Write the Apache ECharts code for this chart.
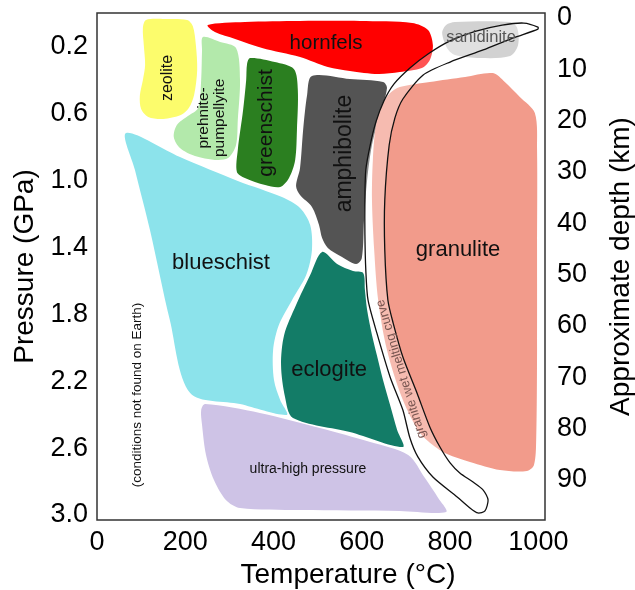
<!DOCTYPE html>
<html>
<head>
<meta charset="utf-8">
<script src="https://cdn.jsdelivr.net/npm/echarts@6.0.0/dist/echarts.min.js"></script>
<style>
  html, body { margin: 0; padding: 0; background: #fff; }
  #chart { width: 635px; height: 590px; }
</style>
</head>
<body>
<div id="chart"></div>
<script>
// Metamorphic facies fields as [temperature (°C), pressure (GPa)] outline vertices
const zeolite = [[111,0.042],[154,0.036],[204,0.042],[217,0.078],[224,0.191],[227,0.341],[220,0.490],[208,0.568],[190,0.610],[150,0.633],[116,0.621],[100,0.574],[97,0.496],[104,0.400],[109,0.311],[106,0.191],[104,0.090]];
const prehnitePumpellyite = [[240,0.143],[279,0.173],[315,0.209],[324,0.400],[319,0.639],[315,0.789],[297,0.867],[267,0.878],[222,0.855],[188,0.807],[174,0.741],[181,0.669],[206,0.616],[229,0.568],[236,0.400],[238,0.221]];
const greenschist = [[347,0.269],[403,0.293],[446,0.335],[455,0.460],[453,0.699],[449,0.878],[435,0.986],[415,1.040],[381,1.028],[335,0.986],[317,0.950],[319,0.819],[331,0.580],[338,0.400],[340,0.305]];
const amphibolite = [[487,0.376],[573,0.394],[648,0.412],[657,0.448],[641,0.610],[623,0.789],[612,0.998],[605,1.237],[600,1.464],[587,1.500],[551,1.452],[523,1.404],[510,1.345],[503,1.267],[487,1.159],[460,1.088],[451,1.034],[460,0.926],[467,0.699],[476,0.490]];
const hornfels = [[251,0.072],[335,0.054],[460,0.048],[596,0.048],[714,0.060],[750,0.102],[761,0.191],[754,0.281],[736,0.329],[686,0.353],[637,0.365],[573,0.347],[523,0.323],[460,0.263],[374,0.209],[313,0.155],[267,0.114]];
const sanidinite = [[782,0.120],[791,0.072],[811,0.054],[936,0.054],[952,0.090],[954,0.191],[936,0.257],[868,0.269],[811,0.251],[793,0.209]];
const blueschist = [[66,0.717],[188,0.861],[319,1.004],[419,1.100],[460,1.165],[483,1.267],[487,1.416],[474,1.566],[442,1.715],[412,1.865],[399,2.014],[401,2.193],[415,2.313],[430,2.402],[324,2.337],[211,2.271],[165,1.835],[120,1.297],[86,0.938]];
const eclogite = [[510,1.428],[544,1.500],[580,1.542],[603,1.554],[607,1.655],[612,1.775],[623,1.924],[634,2.044],[648,2.193],[664,2.343],[680,2.492],[693,2.594],[573,2.504],[444,2.420],[426,2.295],[417,2.104],[424,1.924],[451,1.745],[483,1.566]];
const ultraHighPressure = [[245,2.337],[369,2.390],[505,2.480],[619,2.564],[705,2.641],[743,2.779],[773,2.898],[791,2.982],[686,2.976],[460,2.970],[324,2.958],[292,2.910],[265,2.791],[247,2.641],[238,2.462],[236,2.373]];
const granulite = [[686,0.442],[754,0.412],[834,0.382],[897,0.359],[924,0.412],[958,0.502],[992,0.598],[997,0.819],[997,1.416],[997,2.014],[995,2.552],[990,2.701],[974,2.737],[913,2.731],[845,2.683],[793,2.635],[770,2.600],[732,2.510],[693,2.313],[657,2.014],[637,1.715],[628,1.416],[623,1.118],[625,0.878],[632,0.669],[646,0.550],[664,0.478]];

// Closed outline of the granite wet-melting band
const meltingCurve = [[999,0.084],[967,0.060],[918,0.072],[859,0.108],[800,0.167],[750,0.245],[709,0.329],[673,0.424],[650,0.526],[632,0.651],[619,0.789],[609,0.938],[607,1.118],[607,1.327],[609,1.536],[614,1.715],[634,1.912],[664,2.175],[693,2.373],[709,2.540],[727,2.653],[761,2.773],[816,2.892],[845,2.958],[863,2.988],[879,2.976],[886,2.910],[875,2.851],[852,2.803],[822,2.749],[800,2.689],[777,2.594],[754,2.474],[725,2.271],[693,2.056],[671,1.853],[659,1.715],[652,1.416],[652,1.118],[662,0.789],[675,0.627],[693,0.514],[739,0.370],[800,0.293],[875,0.221],[943,0.149],[999,0.096]];

// Tick labels
const temperatureTicks = [0, 200, 400, 600, 800, 1000];
const pressureTicks = ['0.2', '0.6', '1.0', '1.4', '1.8', '2.2', '2.6', '3.0'];
const depthTicks = [0, 10, 20, 30, 40, 50, 60, 70, 80, 90];

const FONT = '"Liberation Sans", Arial, sans-serif';

const faciesFields = [
  { name: 'zeolite', pts: zeolite },
  { name: 'prehnite-pumpellyite', pts: prehnitePumpellyite },
  { name: 'greenschist', pts: greenschist },
  { name: 'amphibolite', pts: amphibolite },
  { name: 'hornfels', pts: hornfels },
  { name: 'sanidinite', pts: sanidinite },
  { name: 'blueschist', pts: blueschist },
  { name: 'eclogite', pts: eclogite },
  { name: 'ultra-high pressure', pts: ultraHighPressure },
  { name: 'granulite', pts: granulite }
];

const fieldColors = {
  'zeolite': '#fcfc6c',
  'prehnite-pumpellyite': '#b3e9ab',
  'greenschist': '#2b7f20',
  'amphibolite': '#545454',
  'hornfels': '#ff0000',
  'sanidinite': '#d2d2d2',
  'blueschist': '#8ce3eb',
  'eclogite': '#137c67',
  'ultra-high pressure': '#cec3e6',
  'granulite': '#f29b8b'
};

// Field captions, anchored in temperature/pressure space
const fieldLabels = [
  { text: 'zeolite', at: [159, 0.388], size: 16, rotate: 90 },
  { text: 'prehnite-\npumpellyite', at: [260, 0.627], size: 15.5, rotate: 90, lineHeight: 16 },
  { text: 'greenschist', at: [383, 0.657], size: 21, rotate: 90 },
  { text: 'amphibolite', at: [562, 0.840], size: 23, rotate: 90 },
  { text: 'hornfels', at: [519, 0.179], size: 20.5 },
  { text: 'sanidinite', at: [870, 0.149], size: 16.5, color: '#555' },
  { text: 'blueschist', at: [281, 1.494], size: 22 },
  { text: 'eclogite', at: [526, 2.133], size: 22 },
  { text: 'granulite', at: [818, 1.416], size: 22 },
  { text: 'ultra-high pressure', at: [478, 2.725], size: 14 },
  { text: '(conditions not found on Earth)', at: [91, 2.283], size: 13.5, rotate: 90 },
  { text: 'granite wet melting curve', at: [689, 2.127], size: 13, rotate: 107, color: '#7a5752' }
];

const chart = echarts.init(document.getElementById('chart'), null, { renderer: 'canvas' });

const hiddenAxisParts = {
  axisLine: { show: false },
  axisTick: { show: false },
  splitLine: { show: false }
};

const titleStyle = { fontSize: 28, color: '#000', fontFamily: FONT };
const tickStyle = { fontSize: 27, color: '#000', fontFamily: FONT };

const option = {
  animation: false,
  backgroundColor: '#ffffff',
  textStyle: { fontFamily: FONT },
  grid: [
    {
      left: 97, right: 90, top: 13, bottom: 70, containLabel: false, outerBoundsMode: 'none',
      show: true, borderColor: '#333', borderWidth: 1.5, backgroundColor: 'transparent'
    },
    { left: 97, right: 90, top: 18, bottom: 110, containLabel: false, outerBoundsMode: 'none', show: false }
  ],
  xAxis: [
    {
      gridIndex: 0, type: 'value', min: 0, max: 1015, interval: 200,
      ...hiddenAxisParts,
      axisLabel: {
        ...tickStyle, margin: 9,
        formatter: v => temperatureTicks.includes(v) ? String(v) : ''
      },
      name: 'Temperature (°C)', nameLocation: 'middle', nameGap: 41,
      nameTextStyle: { ...titleStyle, padding: [0, 0, 0, 54] }
    },
    { gridIndex: 1, type: 'value', min: 0, max: 1, show: false }
  ],
  yAxis: [
    {
      gridIndex: 0, type: 'value', inverse: true, min: 0, max: 3.03, interval: 0.2,
      ...hiddenAxisParts,
      axisLabel: {
        ...tickStyle, margin: 9,
        formatter: v => {
          const s = v.toFixed(1);
          return (pressureTicks.includes(s) && Math.abs(v - parseFloat(s)) < 1e-6) ? s : '';
        }
      },
      name: 'Pressure (GPa)', nameLocation: 'middle', nameRotate: 90, nameGap: 52,
      nameTextStyle: titleStyle
    },
    {
      gridIndex: 1, type: 'value', position: 'right', inverse: true, min: 0, max: 90, interval: 10,
      ...hiddenAxisParts,
      axisLabel: {
        ...tickStyle, margin: 12,
        formatter: v => depthTicks.includes(v) ? String(v) : ''
      }
    },
    {
      gridIndex: 0, type: 'value', position: 'right', min: 0, max: 1,
      ...hiddenAxisParts,
      axisLabel: { show: false },
      name: 'Approximate depth (km)', nameLocation: 'middle', nameRotate: 90, nameGap: 62,
      nameTextStyle: titleStyle
    }
  ],
  series: [
    {
      // facies fields
      type: 'custom', xAxisIndex: 0, yAxisIndex: 0, silent: true,
      data: faciesFields.map((f, i) => [i, 0]),
      renderItem: (params, api) => {
        const f = faciesFields[params.dataIndex];
        return {
          type: 'polygon',
          shape: { points: f.pts.map(p => api.coord(p)), smooth: 0.3 },
          style: { fill: fieldColors[f.name] }
        };
      }
    },
    {
      // granite wet-melting band: lightened interior with a thin outline
      type: 'custom', xAxisIndex: 0, yAxisIndex: 0, silent: true,
      data: [[0, 0]],
      renderItem: (params, api) => ({
        type: 'polygon',
        shape: { points: meltingCurve.map(p => api.coord(p)), smooth: 0.25 },
        style: { fill: 'rgba(255,255,255,0.32)', stroke: '#111', lineWidth: 1.3 }
      })
    },
    {
      // field captions
      type: 'custom', xAxisIndex: 0, yAxisIndex: 0, silent: true,
      data: fieldLabels.map((l, i) => [i, 0]),
      renderItem: (params, api) => {
        const l = fieldLabels[params.dataIndex];
        const pt = api.coord(l.at);
        return {
          type: 'text',
          x: pt[0], y: pt[1],
          rotation: (l.rotate || 0) * Math.PI / 180,
          style: {
            text: l.text,
            fill: l.color || '#111',
            fontSize: l.size,
            fontFamily: FONT,
            lineHeight: l.lineHeight || Math.round(l.size * 1.15),
            align: 'center',
            verticalAlign: 'middle'
          }
        };
      }
    }
  ]
};

chart.setOption(option);
</script>
</body>
</html>
